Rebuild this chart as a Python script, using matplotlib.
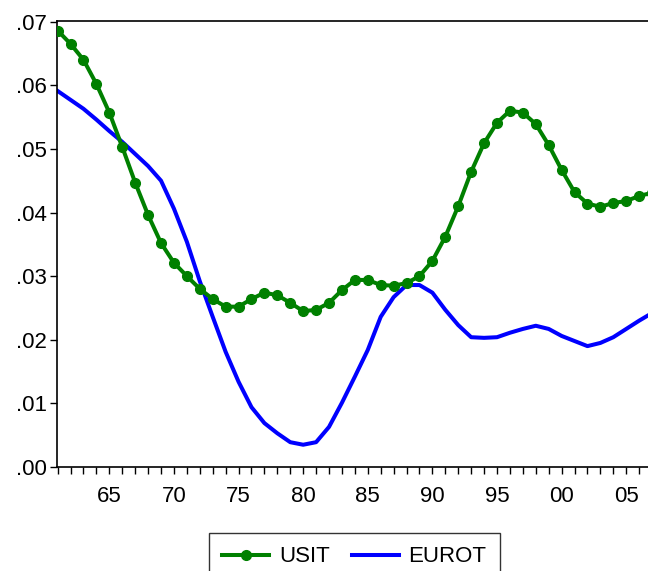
import numpy as np
import matplotlib
matplotlib.use("Agg")
import matplotlib.pyplot as plt
from matplotlib.ticker import MultipleLocator, FuncFormatter

plt.rcParams['font.family'] = ['Liberation Sans', 'DejaVu Sans']

# 年份 1961-2007
years = list(range(1961, 2008))

usit = [0.0686, 0.0665, 0.0640, 0.0602, 0.0557, 0.0503, 0.0447, 0.0396, 0.0352, 0.0321,
        0.0300, 0.0280, 0.0264, 0.0252, 0.0252, 0.0264, 0.0274, 0.0270, 0.0258, 0.0245,
        0.0247, 0.0258, 0.0278, 0.0294, 0.0294, 0.0286, 0.0285, 0.0289, 0.0300, 0.0324,
        0.0362, 0.0410, 0.0464, 0.0509, 0.0541, 0.0560, 0.0557, 0.0539, 0.0506, 0.0467,
        0.0432, 0.0414, 0.0409, 0.0415, 0.0418, 0.0426, 0.0431]

eurot = [0.0591, 0.0577, 0.0563, 0.0546, 0.0528, 0.0511, 0.0492, 0.0473, 0.0450, 0.0406,
         0.0354, 0.0292, 0.0236, 0.0181, 0.0134, 0.0094, 0.0069, 0.0053, 0.0039, 0.0035,
         0.0039, 0.0063, 0.0101, 0.0142, 0.0184, 0.0236, 0.0267, 0.0286, 0.0286, 0.0274,
         0.0247, 0.0223, 0.0204, 0.0203, 0.0204, 0.0211, 0.0217, 0.0222, 0.0217, 0.0206,
         0.0198, 0.0190, 0.0195, 0.0204, 0.0217, 0.0230, 0.0242]

fig = plt.figure(figsize=(6.48, 5.71), dpi=100)
# 右边框被裁掉，所以坐标轴延伸到图外
ax = fig.add_axes([57 / 648, 104 / 571, 608 / 648, 446 / 571])

ax.plot(years, usit, color='#008000', lw=2.9, marker='o', ms=7, label='USIT', zorder=3)
ax.plot(years, eurot, color='#0000ff', lw=2.9, label='EUROT', zorder=2)

ax.set_xlim(1960.95, 2008)
ax.set_ylim(0, 0.0701)

ax.xaxis.set_major_locator(MultipleLocator(5))
ax.xaxis.set_minor_locator(MultipleLocator(1))
ax.xaxis.set_major_formatter(FuncFormatter(lambda v, p: '%02d' % (int(round(v)) % 100)))
ax.yaxis.set_major_locator(MultipleLocator(0.01))
ax.yaxis.set_major_formatter(FuncFormatter(lambda v, p: ('%.2f' % v)[1:] if v >= 0 else '%.2f' % v))

ax.tick_params(axis='both', which='both', direction='out', length=5, width=1, labelsize=16, color='black')
ax.tick_params(axis='x', pad=9)
ax.tick_params(axis='y', pad=2)

for s in ['left', 'bottom', 'top']:
    ax.spines[s].set_linewidth(1.2)
ax.spines['right'].set_visible(False)

# 图例框底部被裁掉
leg = fig.legend(loc='upper center', bbox_to_anchor=(0.547, 38 / 571), ncol=2,
                 fontsize=16, frameon=True, fancybox=False, edgecolor='black',
                 handlelength=2.1, columnspacing=1.0, borderpad=0.6, handletextpad=0.45,
                 borderaxespad=0)
leg.get_frame().set_linewidth(1.0)

fig.savefig('out.png', dpi=100)
